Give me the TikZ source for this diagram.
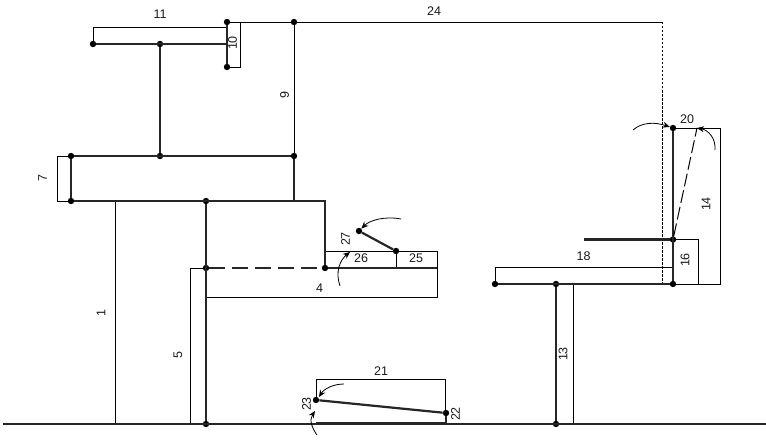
\documentclass[tikz,border=0pt]{standalone}
\usepackage{fontspec}
\setmainfont{Liberation Sans}
\usetikzlibrary{arrows.meta}
\tikzset{
  dot/.style={circle,fill=black,inner sep=0pt,minimum size=6.4pt},
  thickbar/.style={line width=2.2pt,draw=black!85},
  thinline/.style={line width=0.8pt,draw=black},
  dashbar/.style={line width=2.2pt,draw=black!85,dash pattern=on 16pt off 7pt},
  slimdash/.style={line width=0.9pt,draw=black,dash pattern=on 2.5pt off 1.5pt},
  longdash/.style={line width=1pt,draw=black,dash pattern=on 13pt off 4pt},
  curved/.style={line width=0.8pt,draw=black,-{Stealth[length=7pt,width=6pt]}},
  lab/.style={font=\fontsize{12.5}{14}\selectfont,text=black!90,inner sep=0pt},
  vlab/.style={lab,rotate=90}
}
\begin{document}
\begin{tikzpicture}[x=1pt,y=-1pt]
\useasboundingbox (0,0) rectangle (766,444);
% points
\node[dot] (tl) at (93,44) {};
\node[dot] (tm) at (160,44) {};
\coordinate (tr) at (227,44);
\node[dot] (ct) at (227,22) {};
\node[dot] (cb) at (227,67) {};
\node[dot] (nine) at (294,22) {};
\node[dot] (al) at (71,156) {};
\node[dot] (am) at (160,156) {};
\node[dot] (ar) at (294,156) {};
\node[dot] (bl) at (71,201) {};
\node[dot] (bm) at (206,201) {};
\coordinate (br) at (294,201);
\coordinate (be) at (325,201);
\node[dot] (dl) at (206,268) {};
\node[dot] (dm) at (325,268) {};
\coordinate (de) at (437,268);
\node[dot] (gl) at (206,424) {};
\node[dot] (gr) at (556,424) {};
\node[dot] (arm) at (359,231) {};
\node[dot] (joint) at (396,251) {};
\coordinate (jb) at (396,268);
\node[dot] (rt) at (673,128) {};
\node[dot] (rm) at (673,239.5) {};
\node[dot] (rb) at (673,284) {};
\node[dot] (sl) at (495,284) {};
\node[dot] (sm) at (556,284) {};
\coordinate (rarm) at (584,239.5);
\node[dot] (pl) at (316,400) {};
\node[dot] (pr) at (446,413) {};
\coordinate (g0) at (3,424);
\coordinate (g1) at (766,424);
\coordinate (onebt) at (115,201);
\coordinate (onebb) at (115,424);
\coordinate (pbl) at (316,423);
\coordinate (pbr) at (446,423);
\coordinate (dashtop) at (697,128);
\coordinate (dashend) at (662,284);
\coordinate (dashbeg) at (662,22);
% thin dimension lines
\draw[thinline] (tl) |- (227,27.5);
\draw[thinline] (ct) -- (240,22) -- (240,67) -- (cb);
\draw[thinline] (ct) -- (nine) -- (dashbeg);
\draw[thinline] (nine) -- (ar);
\draw[slimdash] (dashbeg) -- (dashend);
\draw[thinline] (al) -- (57,156) -- (57,201) -- (bl);
\draw[thinline] (onebt) -- (onebb);
\draw[thinline] (dl) -- (190,268) -- (190,424);
\draw[thinline] (206,297) -- (437,297) -- (de);
\draw[thinline] (325,251) -- (joint) -- (437,251) -- (de);
\draw[thinline] (joint) -- (jb);
\draw[thinline] (sl) -- (495,267) -- (673,267);
\draw[thinline] (rm) -- (698,239.5) -- (698,284);
\draw[thinline] (rt) -- (720,128) -- (720,284) -- (rb);
\draw[thinline] (sm) -- (573,284) -- (573,424);
\draw[thinline] (pl) -- (316,379) -- (445,379) -- (445,413);
% heavy members
\draw[thickbar] (g0) -- (g1);
\draw[thickbar] (tl) -- (tr);
\draw[thickbar] (ct) -- (cb);
\draw[thickbar] (tm) -- (am);
\draw[thickbar] (al) -- (ar);
\draw[thickbar] (al) -- (bl);
\draw[thickbar] (bl) -- (be) -- (dm);
\draw[thickbar] (ar) -- (br);
\draw[thickbar] (bm) -- (gl);
\draw[dashbar] (dl) -- (dm);
\draw[thickbar] (dm) -- (de);
\draw[thickbar] (joint) -- (arm);
\draw[thickbar] (rt) -- (rb);
\draw[thickbar] (sl) -- (rb);
\draw[thickbar] (rarm) -- (rm);
\draw[thickbar] (sm) -- (gr);
\draw[thickbar] (pl) -- (pr);
\draw[thickbar] (pr) -- (pbr);
\draw[thickbar] (pbl) -- (pbr);
\draw[longdash] (rm) -- (dashtop);
% curved arrows
\draw[curved] (401,219) .. controls (385,216) and (370,220) .. (arm);
\draw[curved] (340,286) .. controls (335,272) and (340,260) .. (350,252);
\draw[curved] (633,130) .. controls (642,122) and (655,122) .. (rt);
\draw[curved] (715,150) .. controls (716,138) and (708,130) .. (dashtop);
\draw[curved] (344,384) .. controls (333,384) and (324,389) .. (319,397);
\draw[curved] (317,435) .. controls (312,428) and (309,420) .. (315,411);
% labels
\node[lab] (l11) at (160,14) {11};
\node[vlab] (l10) at (232.5,43) {10};
\node[vlab] (l9) at (284.5,95) {9};
\node[vlab] (l7) at (42.5,178) {7};
\node[lab] (l24) at (434,11) {24};
\node[vlab] (l1) at (101,313) {1};
\node[vlab] (l5) at (178,355) {5};
\node[lab] (l4) at (319.5,288) {4};
\node[lab] (l26) at (361,258.5) {26};
\node[lab] (l25) at (416,258.5) {25};
\node[vlab] (l27) at (345.5,239) {27};
\node[lab] (l18) at (583.5,256) {18};
\node[vlab] (l16) at (685,260) {16};
\node[vlab] (l14) at (706,204) {14};
\node[lab] (l20) at (687,119.5) {20};
\node[vlab] (l13) at (563,354) {13};
\node[lab] (l21) at (381,371.5) {21};
\node[vlab] (l22) at (455.5,414) {22};
\node[vlab] (l23) at (306.5,404) {23};
\end{tikzpicture}
\end{document}
